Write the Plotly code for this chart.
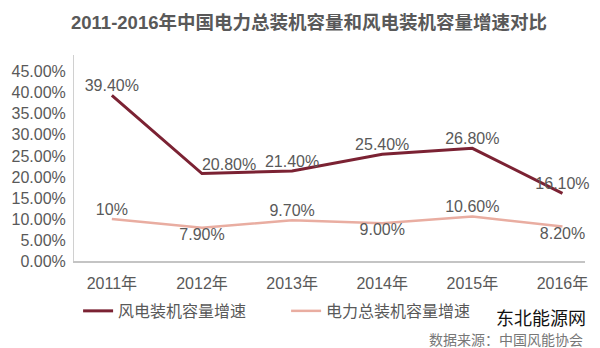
import plotly.graph_objects as go

years = ["2011年", "2012年", "2013年", "2014年", "2015年", "2016年"]
wind_growth = [0.394, 0.208, 0.214, 0.254, 0.268, 0.161]
total_growth = [0.10, 0.079, 0.097, 0.090, 0.106, 0.082]
wind_labels = ["39.40%", "20.80%", "21.40%", "25.40%", "26.80%", "16.10%"]
total_labels = ["10%", "7.90%", "9.70%", "9.00%", "10.60%", "8.20%"]
series_names = ["风电装机容量增速", "电力总装机容量增速"]
y_ticks = [0, 0.05, 0.10, 0.15, 0.20, 0.25, 0.30, 0.35, 0.40, 0.45]

FONT = "Liberation Sans, Arial, Noto Sans CJK SC, sans-serif"
GRAY = "#595959"
DARK = "#7B2233"
LIGHT = "#E9ADA1"

fig = go.Figure()
fig.add_trace(go.Scatter(
    x=list(range(len(years))), y=wind_growth, name=series_names[0],
    mode="lines+text", text=wind_labels,
    textposition=["top center", "top right", "top center",
                  "top center", "top center", "top center"],
    textfont=dict(size=16, color=GRAY, family=FONT),
    line=dict(color=DARK, width=3), cliponaxis=False,
))
fig.add_trace(go.Scatter(
    x=list(range(len(years))), y=total_growth, name=series_names[1],
    mode="lines+text", text=total_labels,
    textposition=["top center", "bottom center", "top center",
                  "bottom center", "top center", "bottom center"],
    textfont=dict(size=16, color=GRAY, family=FONT),
    line=dict(color=LIGHT, width=2.5), cliponaxis=False,
))

fig.update_layout(
    width=600, height=348,
    margin=dict(l=72, r=15, t=55, b=87),
    paper_bgcolor="white", plot_bgcolor="white",
    font=dict(family=FONT, size=16, color=GRAY),
    title=dict(text="<b>2011-2016年中国电力总装机容量和风电装机容量增速对比</b>",
               x=0.515, xanchor="center", y=0.935, yanchor="middle",
               font=dict(size=18.5, color=GRAY, family=FONT)),
    showlegend=True,
    legend=dict(orientation="h", x=0.008, xanchor="left", y=-0.16, yanchor="top",
                font=dict(size=16, color=GRAY, family=FONT),
                entrywidth=163, entrywidthmode="pixels",
                bgcolor="rgba(0,0,0,0)"),
    xaxis=dict(tickmode="array", tickvals=list(range(len(years))), ticktext=years,
               range=[-0.42, 5.25], showgrid=False, zeroline=False,
               showline=True, linecolor="#C4C4C4", linewidth=2, ticks="",
               ticklabelstandoff=7,
               tickfont=dict(size=16, color=GRAY, family=FONT)),
    yaxis=dict(tickmode="array", tickvals=y_ticks, tickformat=".2%",
               range=[0, 0.49], showgrid=False, zeroline=False,
               showline=True, linecolor="#D0D0D0", linewidth=1, ticks="",
               ticklabelstandoff=4,
               tickfont=dict(size=16, color=GRAY, family=FONT)),
)

fig.add_annotation(text="东北能源网", xref="paper", yref="paper",
                   x=1.005, y=(261 - 317) / 206, xanchor="right", yanchor="middle",
                   showarrow=False,
                   font=dict(size=18, color="#111111", family="Noto Sans CJK SC"))
fig.add_annotation(text="数据来源：中国风能协会", xref="paper", yref="paper",
                   x=1.0, y=(261 - 339) / 206, xanchor="right", yanchor="middle",
                   showarrow=False,
                   font=dict(size=14, color="#777777", family="Noto Sans CJK SC"))

fig.write_html("out.html")
